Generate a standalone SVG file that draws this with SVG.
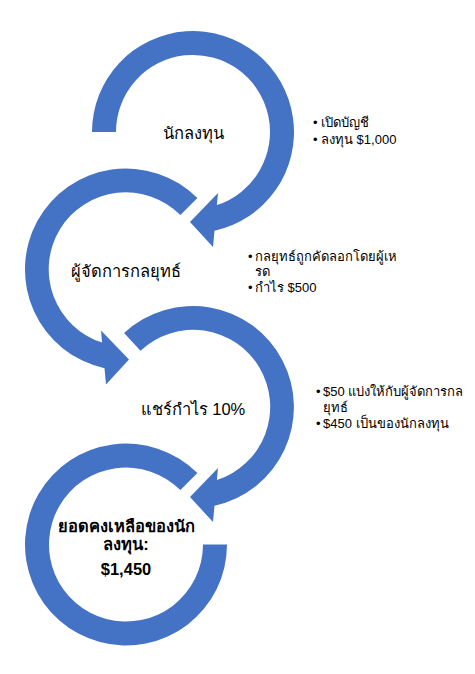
<svg xmlns="http://www.w3.org/2000/svg" width="475" height="674" viewBox="0 0 475 674">
<style>
.arc{fill:#4472C4;stroke:none}
.lbl{font-family:"Liberation Sans","Noto Sans",sans-serif;font-size:16.5px;fill:#000;text-anchor:middle;dominant-baseline:central}
.b{font-family:"Liberation Sans","Noto Sans",sans-serif;font-size:13px;fill:#000;dominant-baseline:central}
.bold{font-weight:bold}
</style>
<rect width="475" height="674" fill="#fff"/>
<g id="node1">
<path class="arc" d="M92,132 A101,101 0 1 1 214.5,230.7 L213,247 L190,222 L218,193 L216.9,205.1 A77,77 0 1 0 116,132 Z"/>
<text class="lbl" x="193" y="133">นักลงทุน</text>
</g>
<g id="node1-notes">
<text class="b" x="313" y="122">•</text><text class="b" x="321" y="122">เปิดบัญชี</text>
<text class="b" x="313" y="139">•</text><text class="b" x="321" y="139">ลงทุน $1,000</text>
</g>
<g id="node2">
<path class="arc" d="M197.4,198.1 A101,101 0 1 0 104.5,368.2 L106,384.5 L129,359.5 L101,330.5 L102.1,342.6 A77,77 0 1 1 180.4,215.1 Z"/>
<text class="lbl" x="126" y="271">ผู้จัดการกลยุทธ์</text>
</g>
<g id="node2-notes">
<text class="b" x="248" y="256">•</text><text class="b" x="255" y="256">กลยุทธ์ถูกคัดลอกโดยผู้เห</text>
<text class="b" x="255" y="271">รด</text>
<text class="b" x="248" y="287">•</text><text class="b" x="255" y="287">กำไร $500</text>
</g>
<g id="node3">
<path class="arc" d="M124.1,333.1 A101,101 0 1 1 214.5,505.7 L213,522 L190,497 L218,468 L216.9,480.1 A77,77 0 1 0 140.5,350.7 Z"/>
<text class="lbl" x="193" y="409">แชร์กำไร 10%</text>
</g>
<g id="node3-notes">
<text class="b" x="316" y="391">•</text><text class="b" x="323" y="391">$50 แบ่งให้กับผู้จัดการกล</text>
<text class="b" x="323" y="407">ยุทธ์</text>
<text class="b" x="316" y="423">•</text><text class="b" x="323" y="423">$450 เป็นของนักลงทุน</text>
</g>
<g id="node4">
<path class="arc" d="M227,544.5 A101,101 0 1 1 197.4,473.1 L180.4,490.1 A77,77 0 1 0 203,544.5 Z"/>
<text class="lbl bold" x="126" y="526" font-size="13.5">ยอดคงเหลือของนัก</text>
<text class="lbl bold" x="126" y="544" font-size="13.5">ลงทุน:</text>
<text class="lbl bold" x="126" y="569" font-size="17.5">$1,450</text>
</g>
</svg>
